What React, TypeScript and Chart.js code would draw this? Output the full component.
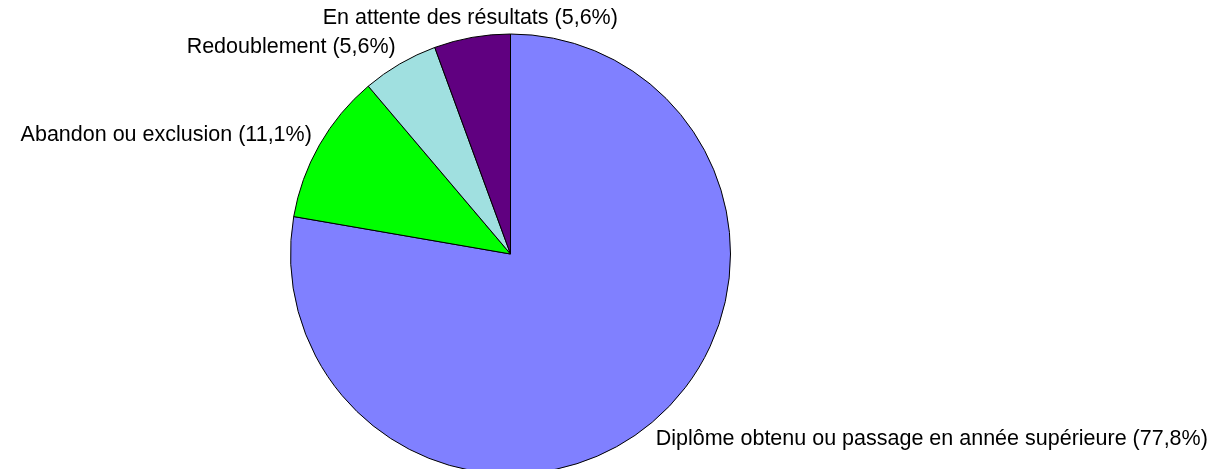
import React, { useEffect, useRef } from "react";
import { Chart, registerables } from "chart.js";

Chart.register(...registerables);

const categories = [
  "Diplôme obtenu ou passage en année supérieure",
  "Abandon ou exclusion",
  "Redoublement",
  "En attente des résultats",
];
const values = [77.8, 11.1, 5.6, 5.6];
const valueLabels = ["77,8%", "11,1%", "5,6%", "5,6%"];
const colors = ["#8080FF", "#00FF00", "#A0E0E0", "#600080"];

const FONT_SIZE = 21.5;
const FONT = `${FONT_SIZE}px "Liberation Sans", Arial, sans-serif`;

const outsideLabels = {
  id: "outsideLabels",
  afterDatasetsDraw(chart: any) {
    const ctx = chart.ctx;
    const meta = chart.getDatasetMeta(0);
    ctx.save();
    ctx.font = FONT;
    ctx.fillStyle = "#000";
    ctx.textBaseline = "middle";
    meta.data.forEach((arc: any, i: number) => {
      const { x, y, startAngle, endAngle, outerRadius } = arc.getProps(
        ["x", "y", "startAngle", "endAngle", "outerRadius"],
        true
      );
      const mid = (startAngle + endAngle) / 2;
      const a = mid + Math.PI / 2;
      const s = Math.sin(a);
      const c = Math.cos(a);
      const r = outerRadius + 10;
      const px = x + r * s;
      const py = y - r * c;
      const text = `${categories[i]} (${valueLabels[i]})`;
      const h = FONT_SIZE;
      let tx = px;
      if (Math.abs(s) < 0.35) {
        ctx.textAlign = "center";
      } else if (s > 0) {
        ctx.textAlign = "left";
        tx = px - 3;
      } else {
        ctx.textAlign = "right";
        tx = px + 1;
      }
      const ty = py - (c * h) / 2 + 1;
      ctx.fillText(text, tx, ty);
    });
    ctx.restore();
  },
};

export default function App() {
  const ref = useRef<HTMLCanvasElement | null>(null);
  useEffect(() => {
    if (!ref.current) return;
    const chart = new Chart(ref.current, {
      type: "pie",
      data: {
        labels: categories,
        datasets: [
          {
            data: values,
            backgroundColor: colors,
            borderColor: "#000000",
            borderWidth: 1,
            hoverOffset: 0,
          },
        ],
      },
      options: {
        responsive: false,
        animation: false,
        radius: 220,
        layout: { padding: { left: 290, right: 486, top: 40, bottom: 1 } },
        plugins: {
          legend: { display: false },
          tooltip: { enabled: false },
        },
      } as any,
      plugins: [outsideLabels],
    });
    return () => chart.destroy();
  }, []);
  return (
    <div style={{ position: "fixed", left: 0, top: 0, width: 1217, height: 469, background: "#fff" }}>
      <canvas ref={ref} width={1217} height={469} style={{ width: 1217, height: 469 }} />
    </div>
  );
}
